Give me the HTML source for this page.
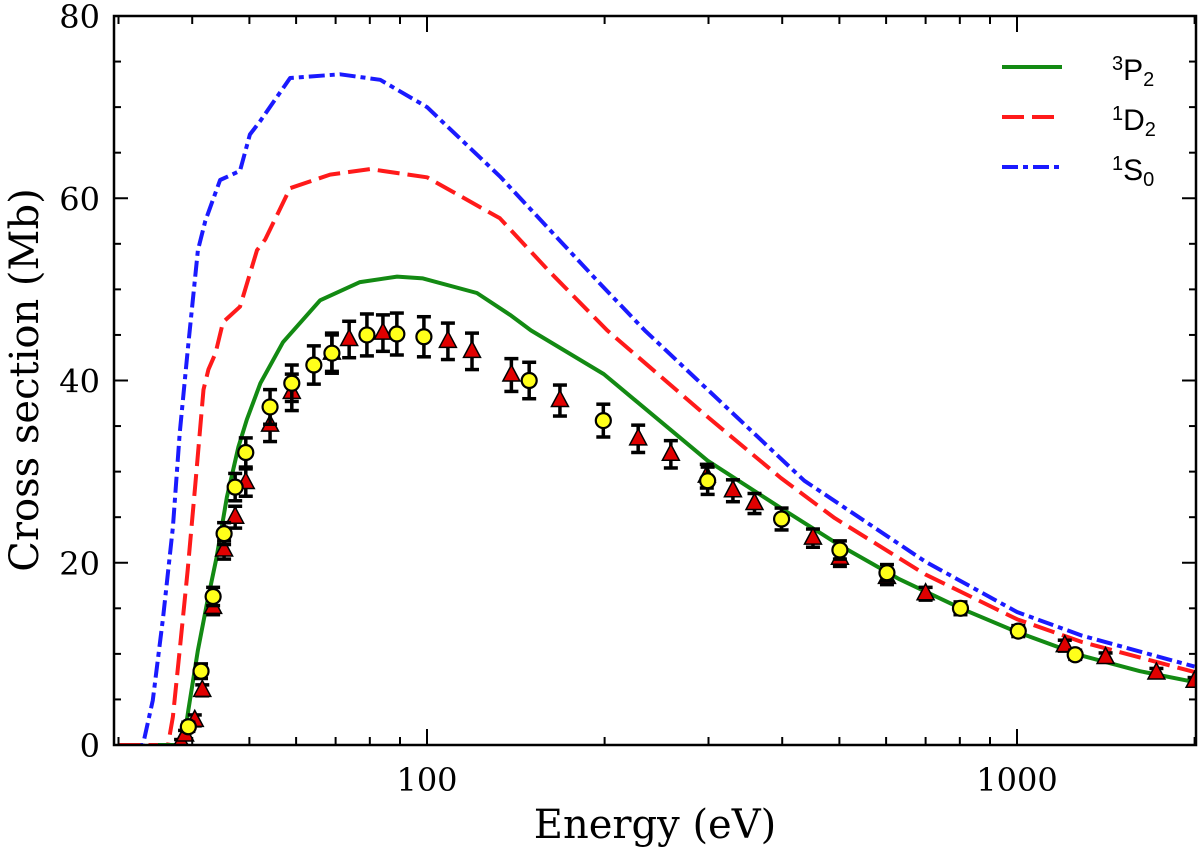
<!DOCTYPE html>
<html><head><meta charset="utf-8"><style>
html,body{margin:0;padding:0;background:#fff;}
svg{display:block;font-family:"DejaVu Serif","Liberation Serif",serif;}
</style></head><body>
<svg id="chart" width="1200" height="852" viewBox="0 0 1200 852" xmlns="http://www.w3.org/2000/svg">
<g id="marks"></g>
<g id="axes"></g>
<text x="655" y="838" font-size="40" text-anchor="middle">Energy (eV)</text>
<text transform="translate(38,380) rotate(-90)" font-size="40" text-anchor="middle">Cross section (Mb)</text>
<g>
<line x1="1002" y1="67" x2="1062" y2="67" stroke="#138a13" stroke-width="4"/>
<text x="1112" y="80" font-size="30" font-family="Liberation Sans, sans-serif"><tspan font-size="20" dy="-10">3</tspan><tspan dy="10">P</tspan><tspan font-size="20" dy="6">2</tspan></text>
<line x1="1002" y1="117" x2="1062" y2="117" stroke="#ff1a1a" stroke-width="4" stroke-dasharray="22,8"/>
<text x="1112" y="130" font-size="30" font-family="Liberation Sans, sans-serif"><tspan font-size="20" dy="-10">1</tspan><tspan dy="10">D</tspan><tspan font-size="20" dy="6">2</tspan></text>
<line x1="1002" y1="167" x2="1062" y2="167" stroke="#1a1aff" stroke-width="4" stroke-dasharray="16,5,5,5"/>
<text x="1112" y="180" font-size="30" font-family="Liberation Sans, sans-serif"><tspan font-size="20" dy="-10">1</tspan><tspan dy="10">S</tspan><tspan font-size="20" dy="6">0</tspan></text>
</g>
</svg>
<script>
const p2E=[35,38.6,39.4,40.9,42.4,44.0,45.8,47.9,49.5,52.2,57.0,65.9,77.0,89.0,98.4,121.5,138.3,150,199.4,299,398,501,632,809,1000,1288,1616,2000];
const p2V=[0,0,3.8,10.4,15.6,20.6,27.2,32.7,35.7,39.7,44.2,48.8,50.8,51.4,51.2,49.6,47.2,45.5,40.7,31.2,26.0,21.9,18.2,14.9,12.4,9.8,8.1,6.9];
const d2E=[30,36.4,37.1,38.1,39.3,40.5,41.8,42.6,43.8,45.1,48.2,51.5,53.2,58.6,68.5,80.1,100,132.9,161,202,299,398,491,700,1000,1288,2000];
const d2V=[0,0,3.1,10.4,19.2,28.7,39.0,41.2,43.0,46.4,48.1,54.3,55.5,61.1,62.6,63.2,62.3,57.8,52.0,45.5,36.0,29.3,24.9,18.7,13.8,11.3,8.0];
const s0E=[30,33.0,34.3,35.7,37.1,38.1,39.3,40.9,42.1,44.6,48.2,50.1,52.2,58.6,71.2,83.3,100,132.9,196,234,299,436,700,1000,1288,2000];
const s0V=[0,0,4.9,14.0,23.9,34.2,43.3,54.3,57.5,62.0,63.0,67.0,68.5,73.2,73.6,73.0,70.0,62.4,50.7,45.5,39.0,29.0,20.1,14.6,12.0,8.6];
const circE=[39.4,41.4,43.4,45.3,47.3,49.3,54.2,59,64.3,69,79.1,88.9,98.8,149,199,299,399,501,602,802,1005,1255];
const circV=[2.0,8.1,16.3,23.2,28.3,32.1,37.1,39.7,41.7,43.0,45.0,45.1,44.8,40.0,35.6,29.0,24.8,21.4,18.9,15.0,12.5,9.9];
const circErr=[0.5,0.8,1.0,1.2,1.5,1.6,1.9,2.0,2.1,2.2,2.3,2.3,2.2,2.0,1.8,1.5,1.2,1.0,0.9,0.7,0.6,0.5];
const triE=[38.3,38.9,40.4,41.6,43.4,45.3,47.3,49.3,54.2,59,69,73.8,84.2,108.5,119.2,139,168,228,259,298,330,359,451,501,602,700,1205,1413,1723,2000];
const triV=[0.3,1.1,2.7,6.0,15.1,21.4,25.0,28.8,35.1,38.7,43.0,44.5,45.2,44.3,43.2,40.6,37.8,33.6,31.9,29.5,27.9,26.5,22.7,20.5,18.4,16.6,10.9,9.6,7.9,7.0];
const triErr=[0.3,0.5,0.6,0.6,0.8,1.0,1.2,1.5,1.8,2.0,2.0,2.0,2.0,2.0,2.0,1.8,1.7,1.5,1.5,1.3,1.2,1.1,1.0,0.9,0.8,0.7,0.6,0.5,0.5,0.4];
const yTicks=[0,20,40,60,80];
const xMajor=[100,1000];
const xMinor=[30,40,50,60,70,80,90,200,300,400,500,600,700,800,900,2000];

const L=114,R=1196,T=16,B=745;
const X=e=>427+(Math.log10(e)-2)*590;
const Y=v=>B-v/80*(B-T);
const NS="http://www.w3.org/2000/svg";
const marks=document.getElementById('marks'),axes=document.getElementById('axes');
function mk(tag,attrs,parent){const el=document.createElementNS(NS,tag);for(const k in attrs)el.setAttribute(k,attrs[k]);parent.appendChild(el);return el;}
const clip=mk('clipPath',{id:'cp'},marks);mk('rect',{x:L,y:T,width:R-L,height:B-T},clip);
function curve(E,V,color,dash,name){
  const d=E.map((e,i)=>(i?'L':'M')+X(e).toFixed(1)+','+Y(V[i]).toFixed(1)).join('');
  const p=mk('path',{d:d,fill:'none',stroke:color,'stroke-width':4,'stroke-dasharray':dash,'clip-path':'url(#cp)','stroke-linejoin':'round'},marks);
  
  
}
curve(s0E,s0V,'#1a1aff','16,5,5,5','curve-1s0');
curve(d2E,d2V,'#ff1a1a','22,8','curve-1d2');
curve(p2E,p2V,'#138a13','none','curve-3p2');
function errbar(x,v,err,name){
  const g=mk('g',{'clip-path':'url(#cp)'},marks);
  
  
  const y1=Y(v+err),y2=Y(v-err);
  mk('line',{x1:x,x2:x,y1:y1,y2:y2,stroke:'#000','stroke-width':3.5},g);
  mk('line',{x1:x-7,x2:x+7,y1:y1,y2:y1,stroke:'#000','stroke-width':3.5},g);
  mk('line',{x1:x-7,x2:x+7,y1:y2,y2:y2,stroke:'#000','stroke-width':3.5},g);
}
triE.forEach((e,i)=>{
  const x=X(e),y=Y(triV[i]);
  errbar(x,triV[i],triErr[i],'triangle-errorbar');
  const t=mk('polygon',{points:`${x},${y-10} ${x-8.5},${y+6} ${x+8.5},${y+6}`,fill:'#e00000',stroke:'#000','stroke-width':1.5,'clip-path':'url(#cp)'},marks);
  
  
});
circE.forEach((e,i)=>{
  const x=X(e),y=Y(circV[i]);
  errbar(x,circV[i],circErr[i],'circle-errorbar');
  const c=mk('circle',{cx:x,cy:y,r:7.5,fill:'#ffff1a',stroke:'#000','stroke-width':2.2},marks);
  
  
});
const fr=mk('rect',{x:L,y:T,width:R-L,height:B-T,fill:'none',stroke:'#000','stroke-width':2.5},axes);


for(let v=0;v<=80;v+=5){
  const y=Y(v),len=(v%20===0)?14:7;
  mk('line',{x1:L,x2:L+len,y1:y,y2:y,stroke:'#000','stroke-width':2},axes);
  mk('line',{x1:R,x2:R-len,y1:y,y2:y,stroke:'#000','stroke-width':2},axes);
}
yTicks.forEach(v=>{
  const t=mk('text',{x:L-14,y:Y(v)+12,'font-size':32,'text-anchor':'end'},axes);
  t.textContent=v;
  
  
});
xMinor.forEach(e=>{const x=X(e);if(x<L||x>R)return;
  mk('line',{x1:x,x2:x,y1:B,y2:B-8,stroke:'#000','stroke-width':2},axes);
  mk('line',{x1:x,x2:x,y1:T,y2:T+8,stroke:'#000','stroke-width':2},axes);});
xMajor.forEach(e=>{const x=X(e);
  mk('line',{x1:x,x2:x,y1:B,y2:B-16,stroke:'#000','stroke-width':2},axes);
  mk('line',{x1:x,x2:x,y1:T,y2:T+16,stroke:'#000','stroke-width':2},axes);
  const t=mk('text',{x:x,y:B+46,'font-size':32,'text-anchor':'middle'},axes);
  t.textContent=e;
  
  
});
</script>
</body></html>
